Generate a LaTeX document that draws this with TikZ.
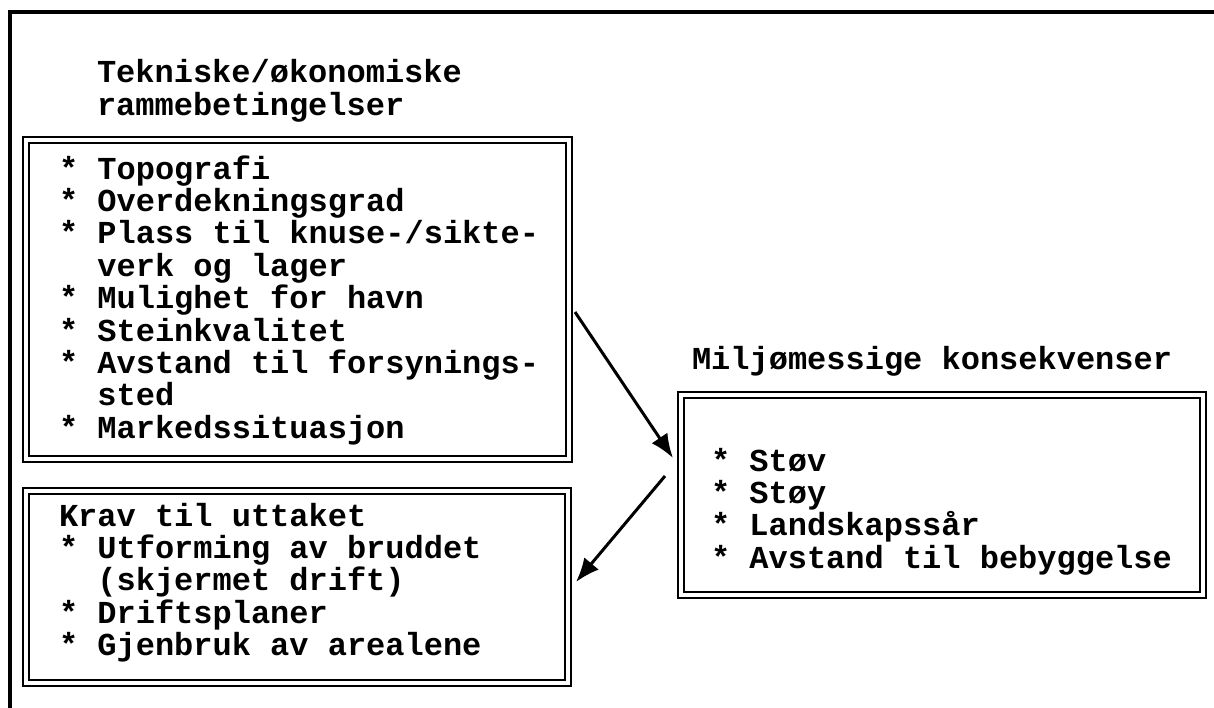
\documentclass[tikz,border=0pt]{standalone}
\usepackage{fontspec}
\newfontfamily\courfont{Liberation Mono}
\usetikzlibrary{arrows.meta}
\tikzset{
  frame/.style={line width=3.4pt},
  dbox/.style={draw, double, double distance=3.4pt, line width=2.5pt, inner sep=0pt, outer sep=0pt, anchor=north west},
  txt/.style={font=\courfont\bfseries\fontsize{32}{32.4}\selectfont, align=left, anchor=base west, inner sep=0pt, outer sep=0pt},
  arr/.style={line width=3pt, -{Latex[length=24pt,width=19pt]}}
}
\begin{document}
\begin{tikzpicture}[x=1pt,y=-1pt]
\useasboundingbox (0,0) rectangle (1214,708);
\draw[frame] (10,710) -- (10,12) -- (1216,12);
\node[txt] (t1) at (97,115.4) {Tekniske/økonomiske\\rammebetingelser};
\node[dbox, minimum width=543pt, minimum height=319pt] (b1) at (26,140) {};
\node[txt] (l1) at (59,438.2) {* Topografi\\* Overdekningsgrad\\* Plass til knuse-/sikte-\\\phantom{* }verk og lager\\* Mulighet for havn\\* Steinkvalitet\\* Avstand til forsynings-\\\phantom{* }sted\\* Markedssituasjon};
\node[dbox, minimum width=542pt, minimum height=192pt] (b2) at (26,491) {};
\node[txt] (l2) at (59,655.6) {Krav til uttaket\\* Utforming av bruddet\\\phantom{* }(skjermet drift)\\* Driftsplaner\\* Gjenbruk av arealene};
\node[txt] (t3) at (692,369) {Miljømessige konsekvenser};
\node[dbox, minimum width=522pt, minimum height=200pt] (b3) at (681,395) {};
\node[txt] (l3) at (711,568.2) {* Støv\\* Støy\\* Landskapssår\\* Avstand til bebyggelse};
\coordinate (a1s) at (575,312);
\coordinate (a1e) at (673,458);
\coordinate (a2s) at (665,476);
\coordinate (a2e) at (576,582);
\draw[arr] (a1s) -- (a1e);
\draw[arr] (a2s) -- (a2e);
\end{tikzpicture}
\end{document}
